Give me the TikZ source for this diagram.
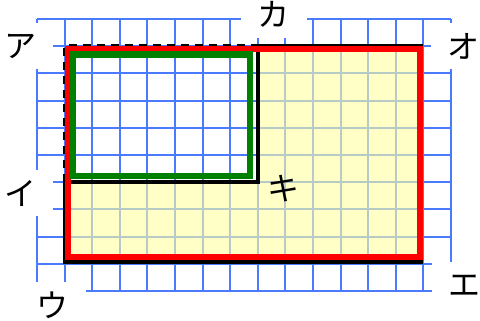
\documentclass[tikz,border=0pt]{standalone}
\usepackage{fontspec}
\newfontfamily\jpfont{Noto Sans CJK JP}
\usepackage{tikz}
\usetikzlibrary{positioning}
\definecolor{gridblue}{HTML}{4A7BFF}
\definecolor{paleyellow}{HTML}{FFFFA0}
\definecolor{framered}{HTML}{FF0000}
\definecolor{framegreen}{HTML}{008000}

\begin{document}
\begin{tikzpicture}[
  x=13.8pt, y=-13.6pt,
  every node/.style={font=\jpfont\fontsize{16pt}{16pt}\selectfont, inner sep=0pt},
  gridline/.style={draw=gridblue, line width=1pt},
  kana/.style={fill=white, minimum width=33pt, minimum height=23pt},
  outline/.style={draw=black, line width=2pt},
  hidden/.style={outline, dash pattern=on 4pt off 3pt},
  bigrect/.style={draw=framered, line width=2.8pt},
  smallrect/.style={draw=framegreen, line width=3.4pt},
]
  \useasboundingbox (-18.5pt,9.5pt) rectangle (221.5pt,-150.5pt);

  \foreach \i in {0,...,15} \draw[gridline] (\i,0) -- (\i,10);
  \foreach \j in {0,...,10} \draw[gridline] (0,\j) -- (15,\j);

  \coordinate (A) at (1,1);
  \coordinate (KA) at (8,1);
  \coordinate (O) at (13.93,1);
  \coordinate (E) at (13.93,8.93);
  \coordinate (U) at (1,8.93);
  \coordinate (I) at (1,6);
  \coordinate (KI) at (8,6);

  \fill[paleyellow, fill opacity=0.6] (KA) -- (O) -- (E) -- (U) -- (I) -- (KI) -- cycle;

  \draw[hidden] (I) -- (A) -- (KA);
  \draw[outline] (KA) -- (O) -- (E) -- (U) -- (I) -- (KI) -- cycle;

  \draw[bigrect] (1.12,1.1) rectangle (13.88,8.75);
  \draw[smallrect] (1.3,1.3) rectangle (7.72,5.77);

  \node[kana, left=5.5pt of A] (a) {ア};
  \node[kana, left=5.5pt of I, yshift=-5.5pt] (i) {イ};
  \node[kana, below=10pt of U, xshift=-6pt] (u) {ウ};
  \node[kana, below right=0pt and 5pt of E] (e) {エ};
  \node[kana, right=4.5pt of O] (o) {オ};
  \node[kana, above=4pt of KA, xshift=8pt] (ka) {カ};
  \node[right=4.5pt of KI, yshift=-3pt] (ki) {キ};
\end{tikzpicture}
\end{document}
